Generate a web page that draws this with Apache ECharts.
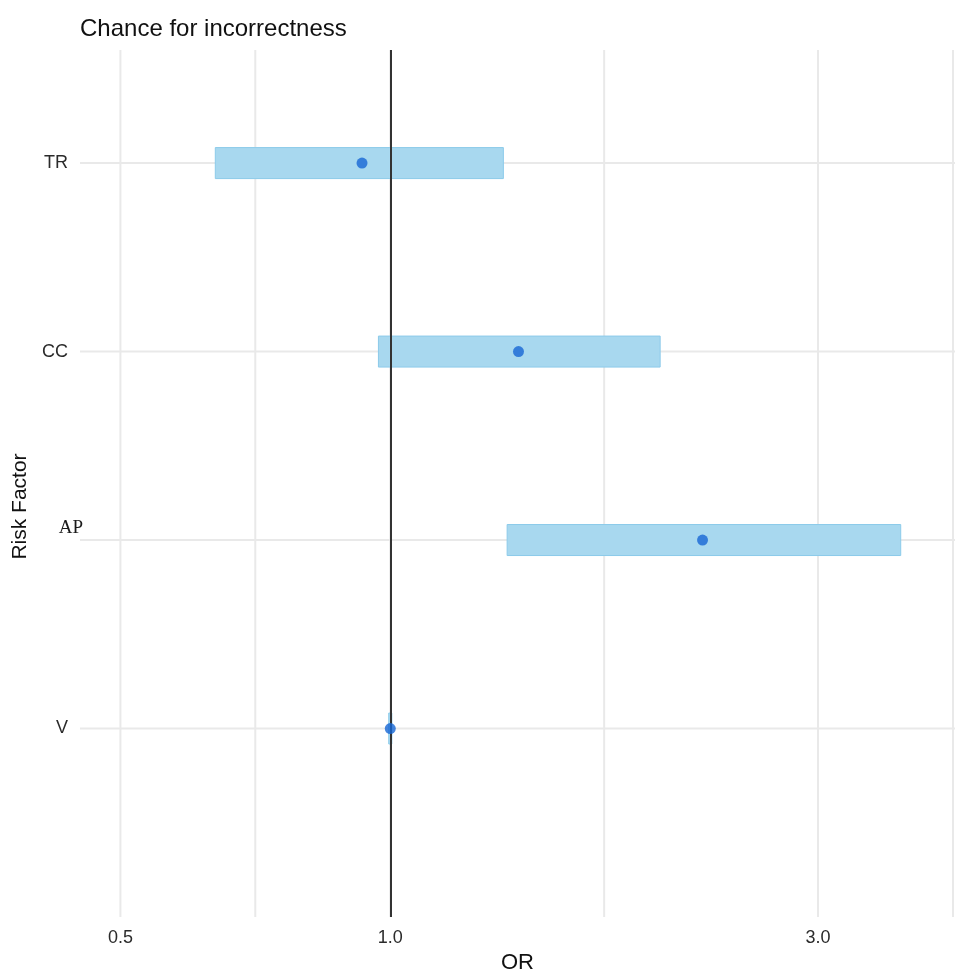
<!DOCTYPE html>
<html>
<head>
<meta charset="utf-8">
<script src="https://cdn.jsdelivr.net/npm/echarts@6/dist/echarts.min.js"></script>
<style>
  html, body { margin: 0; padding: 0; background: #fff; }
  #chart { width: 957px; height: 972px; }
</style>
</head>
<body>
<div id="chart"></div>
<script>
// risk factors, bottom to top
const factors = ['V', 'AP', 'CC', 'TR']
const orValues = [1.00, 2.23, 1.39, 0.93]
const ciLow = [0.996, 1.35, 0.97, 0.638]
const ciHigh = [1.004, 3.71, 2.00, 1.337]
const xBreaks = [0.5, 1.0, 3.0]
const xMinorBreaks = [0.707, 1.732, 4.243]

const chart = echarts.init(document.getElementById('chart'))

const ciData = factors.map((f, i) => [ciLow[i], ciHigh[i], i + 1])
const pointData = factors.map((f, i) => [orValues[i], i + 1])
// grid lines: [x, y, horizontal flag]
const gridData = xBreaks.concat(xMinorBreaks).map(v => [v, 1, 0])
  .concat(factors.map((f, i) => [1, i + 1, 1]))

const option = {
  animation: false,
  title: {
    text: 'Chance for incorrectness',
    left: 75,
    top: 12,
    textStyle: { fontFamily: 'Liberation Sans', fontSize: 24, fontWeight: 'normal', color: '#111' }
  },
  grid: { left: 80, right: 2, top: 50, bottom: 55, outerBoundsMode: 'none', containLabel: false },
  xAxis: {
    type: 'log',
    logBase: 2,
    min: 0.4507,
    max: 4.265,
    name: 'OR',
    nameLocation: 'middle',
    nameGap: 31,
    nameTextStyle: { fontFamily: 'Liberation Sans', fontSize: 22, color: '#111' },
    axisLine: { show: false },
    axisTick: { show: false },
    splitLine: { show: false },
    axisLabel: {
      customValues: xBreaks,
      margin: 12,
      fontFamily: 'Liberation Sans',
      fontSize: 18,
      color: '#2b2b2b',
      formatter: v => Number(v).toFixed(1)
    }
  },
  yAxis: {
    type: 'value',
    min: 0,
    max: 4.6,
    name: 'Risk Factor',
    nameLocation: 'middle',
    nameGap: 40,
    nameRotate: 90,
    nameTextStyle: { fontFamily: 'Liberation Sans', fontSize: 21, color: '#111', padding: [0, 46, 0, 0] },
    axisLine: { show: false },
    axisTick: { show: false },
    splitLine: { show: false },
    axisLabel: {
      customValues: [1, 2, 3, 4],
      margin: 12,
      fontFamily: 'Liberation Sans',
      fontSize: 18,
      color: '#2b2b2b',
      formatter: v => {
        const f = factors[Math.round(v) - 1]
        return f === 'AP' ? '{ap|AP}' : f
      },
      rich: {
        ap: { fontFamily: 'Liberation Serif', fontSize: 19, color: '#1a1a1a', padding: [0, -15, 24, 0] }
      }
    }
  },
  series: [
    {
      // background grid lines
      type: 'custom',
      silent: true,
      z: 0,
      dimensions: ['x', 'y', 'h'],
      data: gridData,
      renderItem: (params, api) => {
        const cs = params.coordSys
        const p = api.coord([api.value(0), api.value(1)])
        const horizontal = api.value(2) === 1
        return {
          type: 'line',
          shape: horizontal
            ? { x1: cs.x, y1: p[1], x2: cs.x + cs.width, y2: p[1] }
            : { x1: p[0], y1: cs.y, x2: p[0], y2: cs.y + cs.height },
          style: { stroke: '#e9e9e9', lineWidth: 2 }
        }
      }
    },
    {
      type: 'custom',
      z: 2,
      data: ciData,
      renderItem: (params, api) => {
        const p1 = api.coord([api.value(0), api.value(2)])
        const p2 = api.coord([api.value(1), api.value(2)])
        const h = 31
        return {
          type: 'rect',
          shape: { x: p1[0], y: p1[1] - h / 2, width: Math.max(p2[0] - p1[0], 2), height: h },
          style: { fill: '#a8d8ef', stroke: '#8ccbea', lineWidth: 1 }
        }
      }
    },
    {
      // reference line at OR = 1
      type: 'line',
      data: [],
      z: 3,
      markLine: {
        silent: true,
        symbol: 'none',
        label: { show: false },
        lineStyle: { color: '#333', width: 2, type: 'solid' },
        data: [{ xAxis: 1 }]
      }
    },
    {
      type: 'scatter',
      z: 5,
      data: pointData,
      symbol: 'circle',
      symbolSize: 11,
      itemStyle: { color: '#1766d4' }
    }
  ]
}

chart.setOption(option)
window.addEventListener('resize', () => chart.resize())
</script>
</body>
</html>
